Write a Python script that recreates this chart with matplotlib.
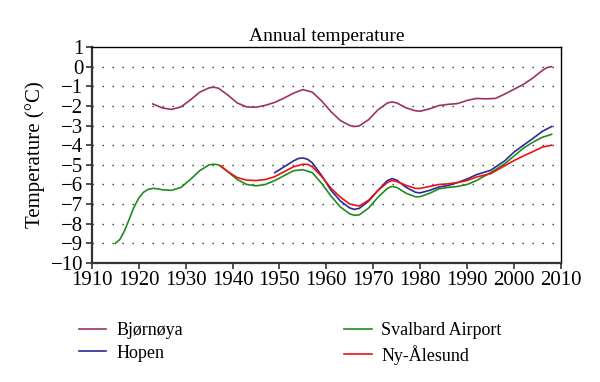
import numpy as np
from matplotlib import pyplot as plt

# Bjørnøya
bj_years = [1923, 1925, 1927, 1929, 1931, 1933, 1935, 1936, 1937, 1939, 1941, 1943, 1945,
            1947, 1949, 1951, 1953, 1955, 1957, 1959, 1961, 1963, 1965, 1966, 1967, 1969,
            1971, 1973, 1974, 1975, 1977, 1979, 1980, 1982, 1984, 1986, 1988, 1990, 1992,
            1994, 1996, 1998, 2000, 2002, 2004, 2006, 2007, 2008]
bj_temp = [-1.9, -2.1, -2.18, -2.05, -1.7, -1.3, -1.08, -1.05, -1.1, -1.45, -1.85, -2.05, -2.07,
           -1.97, -1.82, -1.6, -1.35, -1.17, -1.3, -1.75, -2.3, -2.75, -3.0, -3.05, -3.02, -2.7,
           -2.2, -1.85, -1.8, -1.85, -2.1, -2.25, -2.27, -2.15, -1.98, -1.92, -1.88, -1.72, -1.62,
           -1.64, -1.62, -1.4, -1.15, -0.9, -0.58, -0.2, -0.05, 0.0]

# Svalbard Airport
sv_years = [1915, 1916, 1917, 1918, 1919, 1920, 1921, 1922, 1923, 1924, 1925, 1927, 1929,
            1931, 1933, 1935, 1936, 1937, 1939, 1941, 1943, 1945, 1947, 1949, 1951, 1953,
            1955, 1957, 1959, 1961, 1963, 1965, 1966, 1967, 1969, 1971, 1973, 1974, 1975,
            1977, 1979, 1980, 1982, 1984, 1986, 1988, 1990, 1992, 1995, 1998, 2000, 2002,
            2004, 2006, 2008]
sv_temp = [-9.0, -8.8, -8.35, -7.75, -7.15, -6.7, -6.4, -6.25, -6.2, -6.22, -6.27, -6.3, -6.15,
           -5.75, -5.3, -5.0, -4.97, -5.0, -5.35, -5.75, -6.0, -6.07, -6.0, -5.8, -5.55, -5.3,
           -5.25, -5.4, -5.95, -6.6, -7.15, -7.5, -7.57, -7.55, -7.2, -6.65, -6.2, -6.1, -6.15,
           -6.45, -6.63, -6.62, -6.45, -6.22, -6.15, -6.1, -6.0, -5.8, -5.4, -4.95, -4.55, -4.15,
           -3.85, -3.6, -3.45]

# Hopen
ho_years = [1949, 1951, 1953, 1954, 1955, 1956, 1957, 1959, 1961, 1963, 1965, 1966, 1967, 1969,
            1971, 1973, 1974, 1975, 1977, 1979, 1980, 1982, 1984, 1986, 1988, 1990, 1992,
            1995, 1998, 2000, 2002, 2004, 2006, 2008]
ho_temp = [-5.4, -5.1, -4.8, -4.68, -4.65, -4.72, -4.9, -5.55, -6.3, -6.85, -7.2, -7.27, -7.22, -6.85,
           -6.3, -5.8, -5.7, -5.78, -6.15, -6.4, -6.43, -6.3, -6.13, -6.05, -5.9, -5.72, -5.5,
           -5.28, -4.8, -4.35, -4.0, -3.66, -3.3, -3.05]

# Ny-Ålesund
ny_years = [1937.5, 1939, 1941, 1943, 1945, 1947, 1949, 1951, 1953, 1955, 1956, 1957, 1959,
            1961, 1963, 1965, 1967, 1969, 1971, 1973, 1974, 1975, 1977, 1979, 1980, 1982,
            1984, 1986, 1988, 1990, 1992, 1995, 1998, 2000, 2002, 2004, 2006, 2008]
ny_temp = [-5.05, -5.35, -5.65, -5.78, -5.8, -5.75, -5.6, -5.35, -5.1, -4.97, -4.98, -5.1, -5.6,
           -6.2, -6.65, -7.0, -7.1, -6.8, -6.3, -5.9, -5.8, -5.85, -6.05, -6.2, -6.2, -6.1,
           -6.0, -5.97, -5.9, -5.8, -5.62, -5.45, -5.05, -4.78, -4.55, -4.33, -4.1, -4.0]

x_ticks = list(range(1910, 2011, 10))
y_ticks = list(range(-10, 2))

plt.rcParams['font.family'] = ['Liberation Serif', 'DejaVu Serif']

fig = plt.figure(figsize=(6, 3.82), dpi=100)
ax = fig.add_axes([0.153, 0.3115, 0.782, 0.5655])

# dotted horizontal guides
for yv in range(-9, 1):
    ax.axhline(yv, color='#333333', lw=1.0, linestyle=(0, (1, 6.2)), zorder=0)

l_bj, = ax.plot(bj_years, bj_temp, color='#993366', lw=1.2, label='Bjørnøya')
l_ho, = ax.plot(ho_years, ho_temp, color='#2b2b95', lw=1.2, label='Hopen')
l_sv, = ax.plot(sv_years, sv_temp, color='#1f8c1f', lw=1.2, label='Svalbard Airport')
l_ny, = ax.plot(ny_years, ny_temp, color='#ee1111', lw=1.2, label='Ny-Ålesund')

ax.set_xlim(1910, 2010)
ax.set_ylim(-10, 1)
ax.set_xticks(x_ticks)
ax.set_yticks(y_ticks)
ax.tick_params(labelsize=15, direction='out', length=4, width=1.2, color='#333333', pad=2)
ax.set_ylabel('Temperature (°C)', fontsize=15, labelpad=4)
ax.set_title('Annual temperature', fontsize=14, pad=4)
for side in ['left', 'bottom']:
    ax.spines[side].set_linewidth(1.6)
    ax.spines[side].set_color('#333333')
for side in ['top', 'right']:
    ax.spines[side].set_linewidth(1.0)
    ax.spines[side].set_color('black')

leg1 = fig.legend(handles=[l_bj, l_ho], loc='upper left', bbox_to_anchor=(0.105, 0.20),
                  frameon=False, fontsize=13, handlelength=1.5, labelspacing=0.32,
                  handletextpad=0.55)
leg2 = fig.legend(handles=[l_sv, l_ny], loc='upper left', bbox_to_anchor=(0.547, 0.20),
                  frameon=False, fontsize=13, handlelength=1.5, labelspacing=0.32,
                  handletextpad=0.55)

plt.savefig('out.png', dpi=100)
